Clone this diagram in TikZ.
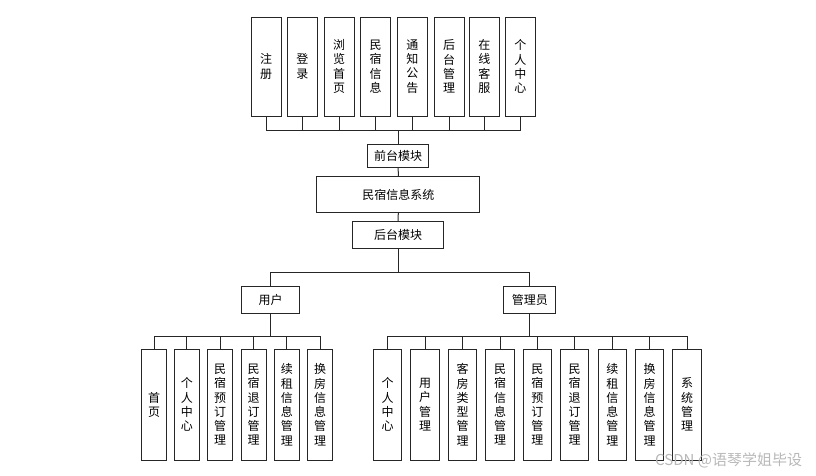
\documentclass[tikz,border=0pt]{standalone}
\usepackage{fontspec}
\setmainfont{Noto Sans CJK SC}
\newfontfamily\wmfont{Noto Sans CJK SC}
\begin{document}
\begin{tikzpicture}[x=1pt,y=-1pt,
  box/.style={draw=black!85, line width=1pt, fill=white, inner sep=0pt, align=center,
    font=\fontsize{12}{14.3}\selectfont},
  topbox/.style={box, minimum width=30pt, minimum height=99pt},
  ubox/.style={box, minimum width=25pt, minimum height=110.7pt},
  abox/.style={box, minimum width=28.5pt, minimum height=110.7pt},
  conn/.style={draw=black!85, line width=1pt}]
\useasboundingbox (0,0) rectangle (816,475);

% top modules
\node[topbox] (t1) at (266,66.5) {注\\册};
\node[topbox] (t2) at (302.3,66.5) {登\\录};
\node[topbox] (t3) at (339,66.5) {浏\\览\\首\\页};
\node[topbox] (t4) at (375.7,66.5) {民\\宿\\信\\息};
\node[topbox] (t5) at (412.3,66.5) {通\\知\\公\\告};
\node[topbox] (t6) at (449,66.5) {后\\台\\管\\理};
\node[topbox] (t7) at (484.3,66.5) {在\\线\\客\\服};
\node[topbox] (t8) at (520.3,66.5) {个\\人\\中\\心};

\node[box, minimum width=61pt, minimum height=23.3pt] (qt) at (398.2,155.7) {前台模块};
\node[box, minimum width=163.3pt, minimum height=36.4pt] (sys) at (398.3,194.5) {民宿信息系统};
\node[box, minimum width=90.6pt, minimum height=26.6pt] (ht) at (398,235) {后台模块};

\node[box, minimum width=57.6pt, minimum height=27.3pt] (user) at (270.5,300.3) {用户};
\node[box, minimum width=51.7pt, minimum height=27.3pt] (admin) at (529.8,300.3) {管理员};

% user children
\node[ubox] (u1) at (154.2,404.7) {首\\页};
\node[ubox] (u2) at (186.8,404.7) {个\\人\\中\\心};
\node[ubox] (u3) at (220.2,404.7) {民\\宿\\预\\订\\管\\理};
\node[ubox] (u4) at (253.5,404.7) {民\\宿\\退\\订\\管\\理};
\node[ubox] (u5) at (286.8,404.7) {续\\租\\信\\息\\管\\理};
\node[ubox] (u6) at (320.2,404.7) {换\\房\\信\\息\\管\\理};

% admin children
\node[abox] (a1) at (387.5,404.7) {个\\人\\中\\心};
\node[abox] (a2) at (425,404.7) {用\\户\\管\\理};
\node[abox] (a3) at (462.5,404.7) {客\\房\\类\\型\\管\\理};
\node[abox] (a4) at (500,404.7) {民\\宿\\信\\息\\管\\理};
\node[abox] (a5) at (537.3,404.7) {民\\宿\\预\\订\\管\\理};
\node[abox] (a6) at (574.7,404.7) {民\\宿\\退\\订\\管\\理};
\node[abox] (a7) at (612.3,404.7) {续\\租\\信\\息\\管\\理};
\node[abox] (a8) at (649.7,404.7) {换\\房\\信\\息\\管\\理};
\node[abox] (a9) at (687.2,404.7) {系\\统\\管\\理};

% connectors: top modules to front module
\coordinate (tb) at (qt.north |- 0,130);
\draw[conn] (t1.south) |- (tb);
\draw[conn] (t8.south) |- (tb);
\foreach \i in {2,...,7} \draw[conn] (t\i.south) -- (t\i.south |- tb);
\draw[conn] (qt.north) -- (tb);

\draw[conn] (qt.south) -- (sys.north);
\draw[conn] (sys.south) -- (ht.north);

% back module split
\coordinate (hb) at (ht.south |- 0,272.3);
\draw[conn] (ht.south) -- (hb);
\draw[conn] (user.north) |- (hb);
\draw[conn] (admin.north) |- (hb);

% user bus
\coordinate (ub) at (user.south |- 0,336);
\draw[conn] (user.south) -- (ub);
\draw[conn] (u1.north) |- (ub);
\draw[conn] (u6.north) |- (ub);
\foreach \i in {2,...,5} \draw[conn] (u\i.north) -- (u\i.north |- ub);

% admin bus
\coordinate (ab) at (admin.south |- 0,336.7);
\draw[conn] (admin.south) -- (ab);
\draw[conn] (a1.north) |- (ab);
\draw[conn] (a9.north) |- (ab);
\foreach \i in {2,...,8} \draw[conn] (a\i.north) -- (a\i.north |- ab);

% watermark
\node[text=black!28, font=\wmfont\fontsize{15}{17}\selectfont, inner sep=0pt, anchor=west] (wm) at (655,460) {CSDN @语琴学姐毕设};
\end{tikzpicture}
\end{document}
